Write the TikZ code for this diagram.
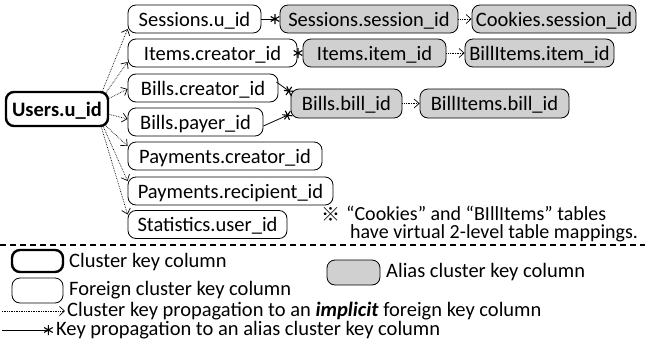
\documentclass[tikz,border=0pt]{standalone}
\usepackage{fontspec}
\setmainfont{Carlito}
\newfontfamily\cjkfont{Noto Sans CJK JP}
\usetikzlibrary{arrows.meta,calc}
\definecolor{aliasgray}{RGB}{208,208,208}
\begin{document}
\begin{tikzpicture}[x=1pt,y=-1pt,
  every node/.style={font=\fontsize{20.5}{22}\selectfont},
  col/.style={draw, rounded corners=8pt, line width=0.8pt, minimum height=28pt, inner sep=0pt, text height=15pt, text depth=1pt},
  fk/.style={col},
  alias/.style={col, fill=aliasgray},
  ck/.style={col, line width=2.4pt, font=\fontsize{20.5}{22}\selectfont\bfseries},
  imp/.style={densely dotted, line width=0.7pt, -{Straight Barb[length=5pt,width=9pt,line width=0.7pt]}},
  akp/.style={line width=0.8pt, -{Rays[n=6,length=10pt,width=10pt,line width=1.1pt]}},
  txt/.style={inner sep=0pt, anchor=west},
  note/.style={inner sep=0pt, anchor=base west, font=\fontsize{20}{21}\selectfont},
]
\useasboundingbox (0,0) rectangle (645,348);
% cluster key
\node[ck, minimum width=102pt, minimum height=34pt] (uid) at (57,109) {Users.u\_id};
% foreign keys
\node[fk, minimum width=133pt] (s1) at (194.5,19) {Sessions.u\_id};
\node[fk, minimum width=169pt] (s2) at (212.5,53) {Items.creator\_id};
\node[fk, minimum width=150pt] (s3) at (203,88) {Bills.creator\_id};
\node[fk, minimum width=135pt] (s4) at (195.5,122) {Bills.payer\_id};
\node[fk, minimum width=194pt] (s5) at (225,156) {Payments.creator\_id};
\node[fk, minimum width=205pt] (s6) at (230.5,191) {Payments.recipient\_id};
\node[fk, minimum width=159pt] (s7) at (207.5,224.5) {Statistics.user\_id};
% alias keys
\node[alias, minimum width=178pt] (a1) at (369,19) {Sessions.session\_id};
\node[alias, minimum width=164pt] (a2) at (554,19) {Cookies.session\_id};
\node[alias, minimum width=143pt] (a3) at (374.5,53) {Items.item\_id};
\node[alias, minimum width=149pt] (a4) at (539.5,53) {BillItems.item\_id};
\node[alias, minimum width=111pt, minimum height=29pt] (a5) at (346.5,103.5) {Bills.bill\_id};
\node[alias, minimum width=149pt, minimum height=29pt] (a6) at (494.5,103.5) {BillItems.bill\_id};
% implicit propagation
\draw[imp] ($(uid.center)+(45,-17)$) -- ($(s1.west)+(0,10)$);
\draw[imp] ($(uid.center)+(48,-15)$) -- ($(s2.west)+(0,9)$);
\draw[imp] ($(uid.center)+(51,-10)$) -- ($(s3.west)+(0,1)$);
\draw[imp] ($(uid.center)+(51,5)$) -- ($(s4.west)+(0,-3)$);
\draw[imp] ($(uid.center)+(48,16)$) -- ($(s5.west)+(0,-10)$);
\draw[imp] ($(uid.center)+(46,17)$) -- ($(s6.west)+(0,-10)$);
\draw[imp] ($(uid.center)+(44,17)$) -- ($(s7.west)+(0,-10)$);
\draw[imp] (a1.east) -- (a2.west);
\draw[imp] (a3.east) -- (a4.west);
\draw[imp] (a5.east) -- (a6.west);
% alias propagation
\draw[akp] (s1.east) -- (a1.west);
\draw[akp] (s2.east) -- (a3.west);
\draw[akp] ($(s3.east)+(-2,-6)$) -- ($(a5.north west)+(2,5)$);
\draw[akp] ($(s4.east)+(0,4)$) -- ($(a5.south west)+(1,-5)$);
% note
\node[txt] (mark) at (321,214) {\cjkfont\fontsize{19}{20}\selectfont ※};
\node[note, text depth=0pt] (n1) at (346,220) {“Cookies” and “BIllItems” tables};
\node[note, text height=12pt] (n2) at (350,238.5) {have virtual 2-level table mappings.};
% separator
\draw[dashed, dash pattern=on 6pt off 4pt, line width=1.4pt] (0,245) -- (645,245);
% legend
\node[col, line width=2.4pt, minimum width=51pt, minimum height=22pt] (lck) at (37.5,261) {};
\node[txt] (tck) at (69,262) {Cluster key column};
\node[col, minimum width=51pt, minimum height=25pt] (lfk) at (37.5,290.5) {};
\node[txt] (tfk) at (69,290) {Foreign cluster key column};
\node[alias, minimum width=53pt, minimum height=25pt] (lal) at (353.5,272.5) {};
\node[txt] (tal) at (386,272) {Alias cluster key column};
\coordinate (li1) at (2,311);
\coordinate (li2) at (65,311);
\draw[imp] (li1) -- (li2);
\node[txt] (tli) at (67,311) {Cluster key propagation to an \textbf{\textit{implicit}} foreign key column};
\coordinate (la1) at (2,330);
\coordinate (la2) at (53,330);
\draw[akp] (la1) -- (la2);
\node[txt] (tla) at (56,330) {Key propagation to an alias cluster key column};
\end{tikzpicture}
\end{document}
